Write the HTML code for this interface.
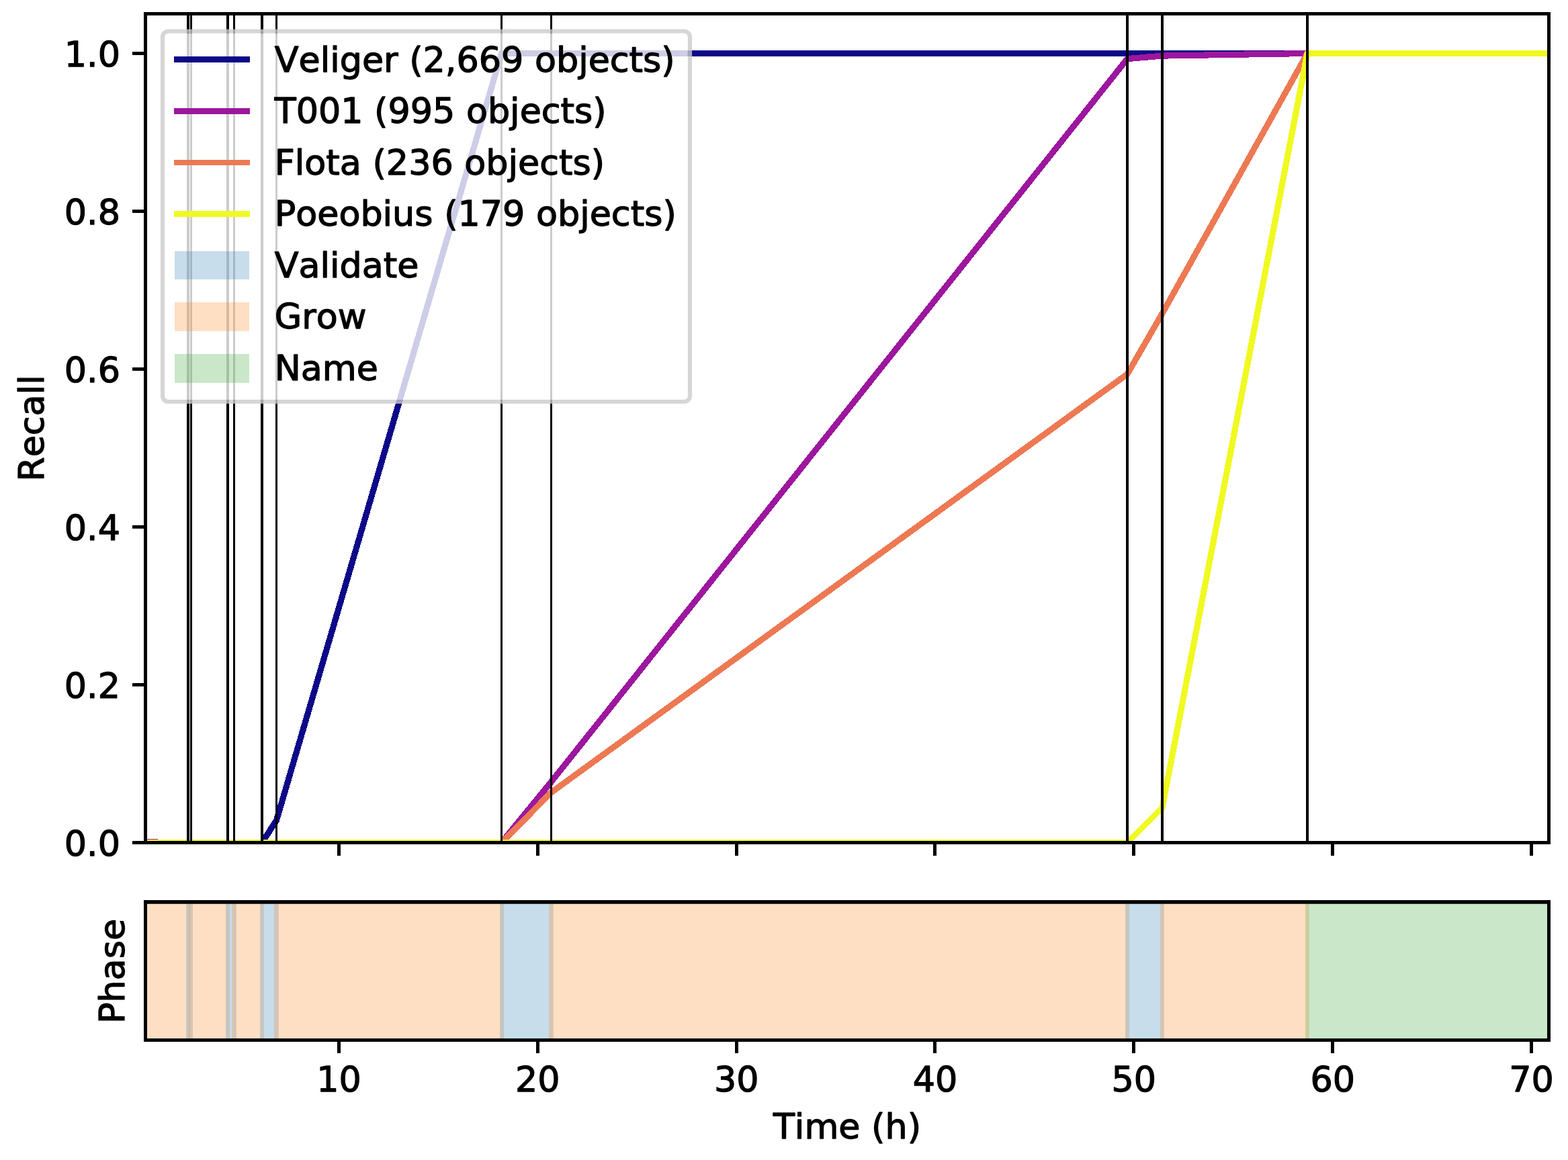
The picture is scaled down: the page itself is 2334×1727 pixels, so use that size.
<!DOCTYPE html>
<html lang="en"><head><meta charset="utf-8"><title>Recall over time</title>
<style>
html,body{margin:0;padding:0;background:#fff;overflow:hidden;}
body{width:2334px;height:1727px;}
svg{display:block;position:absolute;left:0;top:0;}
text{font-family:"DejaVu Sans","Liberation Sans",sans-serif;font-size:52.30px;fill:#000;stroke:#000;stroke-width:1.3px;stroke-linejoin:round;font-kerning:none;}
</style></head><body>
<svg width="2334" height="1727" viewBox="0 0 2334 1727">
<defs>
<clipPath id="c1"><rect x="216.5" y="20.5" width="2089.0" height="1234.0"/></clipPath>
<clipPath id="c2"><rect x="216.5" y="1342.9" width="2089.0" height="205.6"/></clipPath>
</defs>
<rect width="2334" height="1727" fill="#fff"/>
<g clip-path="url(#c1)" fill="none" stroke-width="9.1" stroke-linejoin="round" stroke-linecap="square" shape-rendering="crispEdges">
<polyline stroke="#0d0887" points="216.5,1254.5 390.0,1254.5 411.5,1221.4 746.5,79.5 2320.0,79.5"/>
<polyline stroke="#9c179e" points="210.0,1253.4 233.0,1253.4 235.0,1254.5 746.5,1254.5 820.5,1164.0 1678.0,87.6 1730.0,83.1 1946.0,79.5 2320.0,79.5"/>
<polyline stroke="#ed7953" points="210.0,1254.5 746.5,1254.5 820.5,1179.8 1678.0,557.0 1730.0,466.8 1946.0,79.5 2320.0,79.5"/>
<polyline stroke="#f0f921" points="210.0,1254.5 1678.0,1254.5 1730.0,1202.6 1946.0,79.5 2320.0,79.5"/>
</g>
<g fill="#000" shape-rendering="crispEdges">
<rect x="278" y="20" width="4" height="1235"/>
<rect x="283" y="20" width="3" height="1235"/>
<rect x="337" y="20" width="4" height="1235"/>
<rect x="347" y="20" width="3" height="1235"/>
<rect x="388" y="20" width="4" height="1235"/>
<rect x="410" y="20" width="3" height="1235"/>
<rect x="745" y="20" width="3" height="1235"/>
<rect x="819" y="20" width="3" height="1235"/>
<rect x="1676" y="20" width="4" height="1235"/>
<rect x="1728" y="20" width="4" height="1235"/>
<rect x="1944" y="20" width="4" height="1235"/>
</g>
<g fill="#000" shape-rendering="crispEdges">
<rect x="214" y="18" width="5" height="1239"/>
<rect x="2303" y="18" width="5" height="1239"/>
<rect x="214" y="18" width="2094" height="5"/>
<rect x="214" y="1252" width="2094" height="5"/>
<rect x="197" y="77" width="20" height="5"/>
<rect x="197" y="312" width="20" height="5"/>
<rect x="197" y="547" width="20" height="5"/>
<rect x="197" y="782" width="20" height="5"/>
<rect x="197" y="1017" width="20" height="5"/>
<rect x="197" y="1252" width="20" height="5"/>
<rect x="502" y="1254" width="5" height="20"/>
<rect x="502" y="1548" width="5" height="20"/>
<rect x="798" y="1254" width="5" height="20"/>
<rect x="798" y="1548" width="5" height="20"/>
<rect x="1094" y="1254" width="5" height="20"/>
<rect x="1094" y="1548" width="5" height="20"/>
<rect x="1389" y="1254" width="5" height="20"/>
<rect x="1389" y="1548" width="5" height="20"/>
<rect x="1685" y="1254" width="5" height="20"/>
<rect x="1685" y="1548" width="5" height="20"/>
<rect x="1981" y="1254" width="5" height="20"/>
<rect x="1981" y="1548" width="5" height="20"/>
<rect x="2277" y="1254" width="5" height="20"/>
<rect x="2277" y="1548" width="5" height="20"/>
</g>
<g clip-path="url(#c2)" fill-opacity="0.25">
<rect x="210.0" y="1330" width="73.0" height="230" fill="#ff7f0e"/>
<rect x="277.1" y="1330" width="9.9" height="230" fill="#1f77b4"/>
<rect x="281.2" y="1330" width="60.8" height="230" fill="#ff7f0e"/>
<rect x="336.1" y="1330" width="15.8" height="230" fill="#1f77b4"/>
<rect x="345.1" y="1330" width="47.8" height="230" fill="#ff7f0e"/>
<rect x="387.2" y="1330" width="27.7" height="230" fill="#1f77b4"/>
<rect x="408.1" y="1330" width="341.9" height="230" fill="#ff7f0e"/>
<rect x="744.1" y="1330" width="79.7" height="230" fill="#1f77b4"/>
<rect x="817.0" y="1330" width="863.9" height="230" fill="#ff7f0e"/>
<rect x="1675.1" y="1330" width="57.8" height="230" fill="#1f77b4"/>
<rect x="1727.0" y="1330" width="221.9" height="230" fill="#ff7f0e"/>
<rect x="1943.1" y="1330" width="368.9" height="230" fill="#2ca02c"/>
</g>
<g fill="#000">
<rect x="214" y="1340.1" width="5" height="210.9"/>
<rect x="2303" y="1340.1" width="5" height="210.9"/>
<rect x="214" y="1340.1" width="2094" height="5.6"/>
<rect x="214" y="1546" width="2094" height="5"/>
</g>
<rect x="245.1" y="49.6" width="778.8" height="545.3" rx="5.4" ry="5.4" fill="#fff" fill-opacity="0.8" stroke="none"/>
<rect x="242.0" y="46.5" width="785.0" height="551.5" rx="8.5" ry="8.5" fill="none" stroke="#cccccc" stroke-opacity="0.8" stroke-width="6.2"/>
<g shape-rendering="crispEdges">
<rect x="259" y="84" width="113" height="9" fill="#0d0887"/>
<rect x="259" y="161" width="113" height="9" fill="#9c179e"/>
<rect x="259" y="238" width="113" height="8" fill="#ed7953"/>
<rect x="259" y="314" width="113" height="9" fill="#f0f921"/>
<rect x="260" y="374" width="111" height="42" fill="#1f77b4" fill-opacity="0.25"/>
<rect x="260" y="450" width="111" height="43" fill="#ff7f0e" fill-opacity="0.25"/>
<rect x="260" y="527" width="111" height="43" fill="#2ca02c" fill-opacity="0.25"/>
</g>
<g id="legtext">
<text x="408.7" y="106.5">Veliger (2,669 objects)</text>
<text x="408.7" y="183.1">T001 (995 objects)</text>
<text x="408.7" y="259.6">Flota (236 objects)</text>
<text x="408.7" y="336.1">Poeobius (179 objects)</text>
<text x="408.7" y="412.7">Validate</text>
<text x="408.7" y="489.2">Grow</text>
<text x="408.7" y="565.8">Name</text>
</g>
<g id="ylab" text-anchor="end">
<text x="179.0" y="98.6">1.0</text>
<text x="179.0" y="333.6">0.8</text>
<text x="179.0" y="568.6">0.6</text>
<text x="179.0" y="803.6">0.4</text>
<text x="179.0" y="1038.6">0.2</text>
<text x="179.0" y="1274.4">0.0</text>
</g>
<g id="xlab" text-anchor="middle">
<text x="504.5" y="1624.6">10</text>
<text x="800.3" y="1624.6">20</text>
<text x="1096.2" y="1624.6">30</text>
<text x="1392.0" y="1624.6">40</text>
<text x="1687.8" y="1624.6">50</text>
<text x="1983.7" y="1624.6">60</text>
<text x="2279.5" y="1624.6">70</text>
</g>
<text id="xl" x="1261" y="1695.2" text-anchor="middle">Time (h)</text>
<text id="yl1" transform="translate(65 637.5) rotate(-90)" text-anchor="middle">Recall</text>
<text id="yl2" transform="translate(185 1446) rotate(-90)" text-anchor="middle">Phase</text>
</svg>
</body></html>
